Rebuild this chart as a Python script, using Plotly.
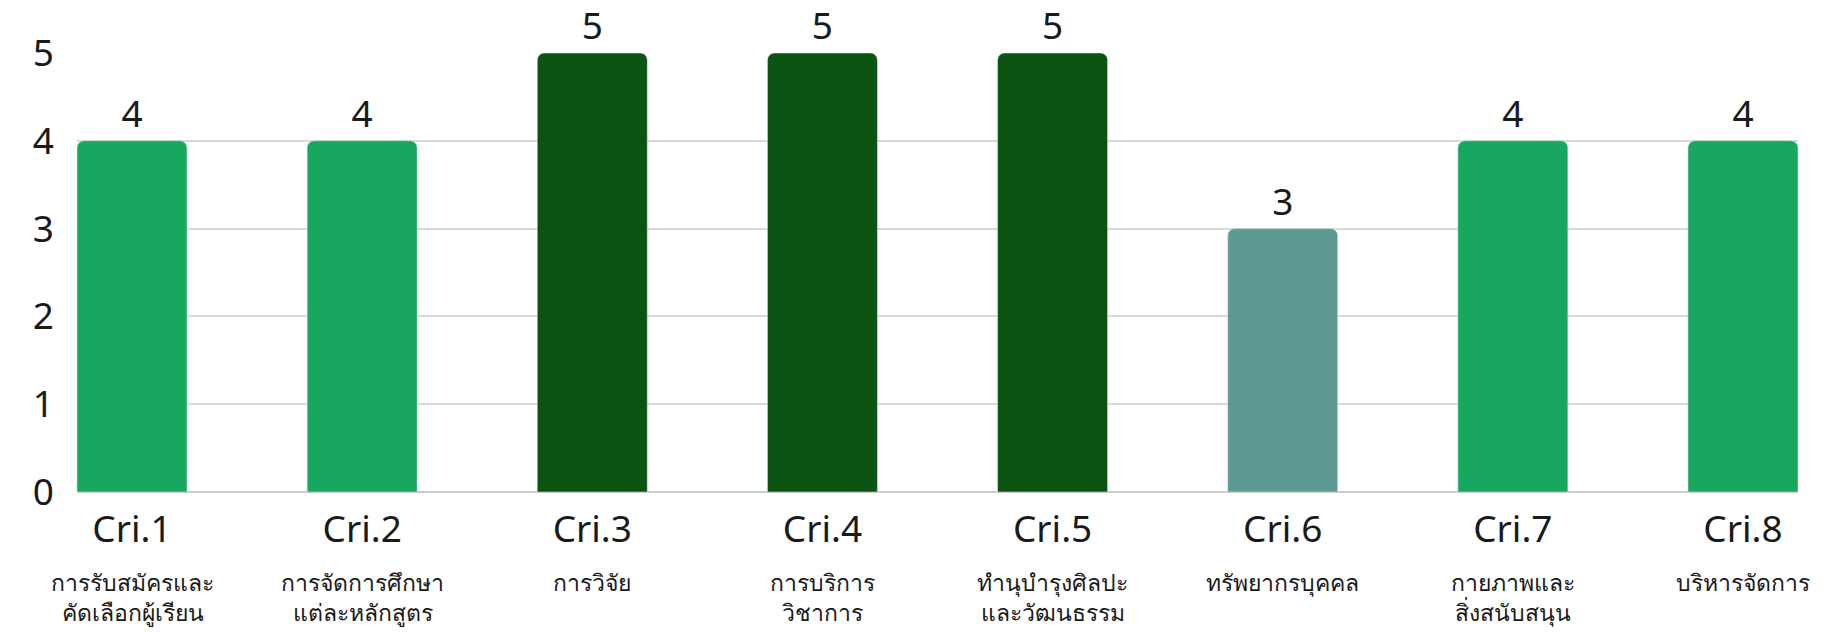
import plotly.graph_objects as go

# criteria codes, Thai names and scores
criteria = ["Cri.1", "Cri.2", "Cri.3", "Cri.4", "Cri.5", "Cri.6", "Cri.7", "Cri.8"]
thai_names = [
    "การรับสมัครและ<br>คัดเลือกผู้เรียน",
    "การจัดการศึกษา<br>แต่ละหลักสูตร",
    "การวิจัย",
    "การบริการ<br>วิชาการ",
    "ทำนุบำรุงศิลปะ<br>และวัฒนธรรม",
    "ทรัพยากรบุคคล",
    "กายภาพและ<br>สิ่งสนับสนุน",
    "บริหารจัดการ",
]
scores = [4, 4, 5, 5, 5, 3, 4, 4]

# colour per score level
score_colors = {5: "#0b5311", 4: "#18a75e", 3: "#5d9a94"}
bar_colors = [score_colors[s] for s in scores]

FONT = "Noto Sans, Roboto, sans-serif"

fig = go.Figure(
    go.Bar(
        x=criteria,
        y=scores,
        marker_color=bar_colors,
        marker_cornerradius=7,
        text=scores,
        textposition="outside",
        textfont=dict(size=37, color="#1a1a1a", family=FONT),
        cliponaxis=False,
        width=0.478,
    )
)

# Thai description under each criterion
for c, name in zip(criteria, thai_names):
    fig.add_annotation(
        x=c, y=-0.165, xref="x", yref="paper",
        text=name, showarrow=False, yanchor="top",
        font=dict(size=23, color="#1a1a1a", family=FONT),
    )

fig.update_xaxes(
    range=[-0.239, 7.239],
    tickfont=dict(size=37, color="#1a1a1a", family=FONT),
    ticklabelstandoff=12,
    showgrid=False,
)
fig.update_yaxes(
    range=[0, 5],
    dtick=1,
    tickfont=dict(size=37, color="#1a1a1a", family=FONT),
    ticklabelstandoff=22,
    showgrid=True,
    gridcolor="#d9d9d9",
    gridwidth=1.5,
    zeroline=True,
    zerolinecolor="#cccccc",
    zerolinewidth=2,
)

fig.update_layout(
    width=1827,
    height=634,
    margin=dict(l=77, r=29, t=53, b=142),
    plot_bgcolor="white",
    paper_bgcolor="white",
    showlegend=False,
    font=dict(family=FONT),
)

# Note drop the default page margin so the chart sits at the top-left corner
fig.write_html(
    "out.html",
    config={"displayModeBar": False},
    post_script="document.body.style.margin='0';",
)
